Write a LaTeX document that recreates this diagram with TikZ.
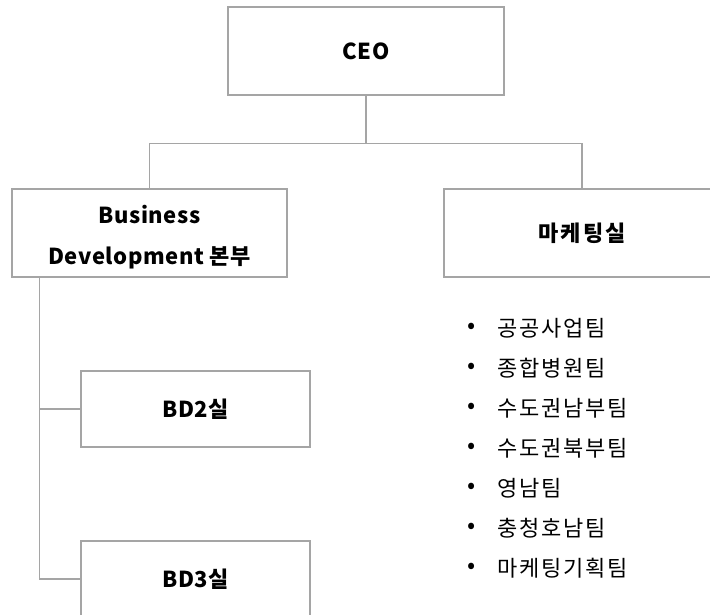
\documentclass[tikz,border=0pt]{standalone}
\usepackage{fontspec}
\setmainfont{Noto Sans CJK KR}
\definecolor{linegray}{RGB}{165,165,165}
\begin{document}
\begin{tikzpicture}[x=1pt,y=-1pt,
  box/.style={draw=linegray,line width=1.3pt,fill=white,rectangle,inner sep=0pt,font=\fontsize{22}{24}\selectfont\bfseries\addfontfeature{LetterSpace=2.5},align=center},
  title/.style={inner sep=0pt,align=center,font=\fontsize{22}{41}\selectfont\bfseries\addfontfeature{LetterSpace=2.5}},
  conn/.style={draw=linegray,line width=1.3pt},
  item/.style={anchor=west,inner sep=0pt,font=\fontsize{22}{24}\selectfont\addfontfeature{LetterSpace=8}},
  bul/.style={inner sep=0pt,font=\fontsize{24}{24}\selectfont}]
\useasboundingbox (0,0) rectangle (710,614);
\clip (0,0) rectangle (710,614);
\node[box,minimum width=276pt,minimum height=88pt] (ceo) at (366,51) {CEO};
\node[box,minimum width=275pt,minimum height=88pt] (bd) at (149.5,233) {};
\node[title] (bdt) at (149.5,237.5) {Business\\Development 본부};
\node[box,minimum width=276pt,minimum height=88pt] (mk) at (582,233) {\addfontfeature{LetterSpace=10}마케팅실};
\node[box,minimum width=229pt,minimum height=76pt] (bd2) at (195.5,409) {BD2실};
\node[box,minimum width=229pt,minimum height=76pt] (bd3) at (195.5,579) {BD3실};
\draw[conn] (ceo.south) -- ++(0,48) coordinate (j);
\draw[conn] (bd.north) |- (j) -| (mk.north);
\coordinate (spine) at ([xshift=28pt]bd.south west);
\draw[conn] (spine) |- (bd2.west);
\draw[conn] (spine) |- (bd3.west);
\foreach \t [count=\i from 0] in {공공사업팀,종합병원팀,수도권남부팀,수도권북부팀,영남팀,충청호남팀,마케팅기획팀}{
  \node[bul] (b\i) at (472,328+40*\i) {•};
  \node[item] (t\i) at (497,328+40*\i) {\t};
}
\end{tikzpicture}
\end{document}
